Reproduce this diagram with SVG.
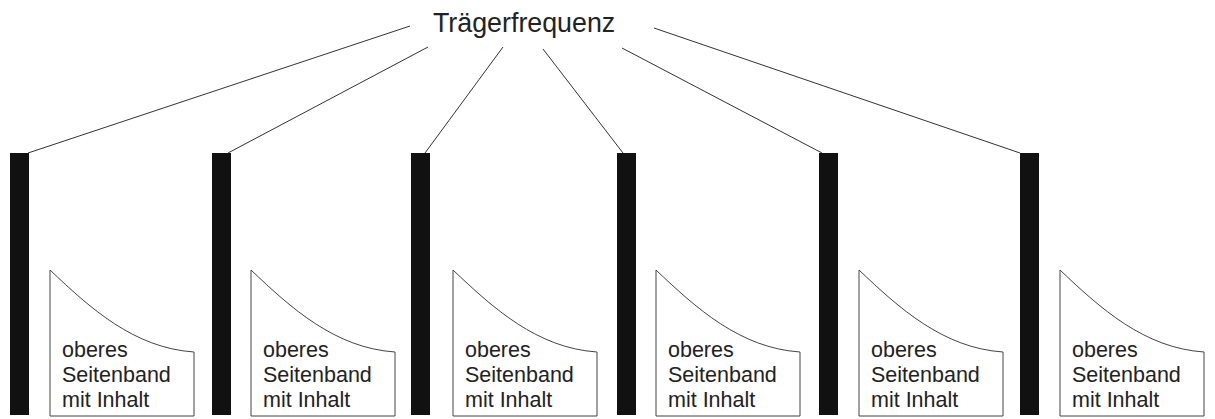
<svg xmlns="http://www.w3.org/2000/svg" width="1215" height="419" viewBox="0 0 1215 419">
<style>
.bg{fill:#ffffff}
.bar{fill:#111111}
.sb{fill:#ffffff;stroke:#444444;stroke-width:1}
.ln{stroke:#333333;stroke-width:1;fill:none}
.t{font-family:"Liberation Sans",Arial,sans-serif;fill:#222222}
.title{font-size:26.8px}
.lbl{font-size:21.5px}
</style>
<defs>
<path id="band" d="M0,0 C40,38 84,78 144,82 L144,146 L0,146 Z"/>
</defs>
<rect class="bg" x="0" y="0" width="1215" height="419"/>
<g id="connectors">
<line class="ln" x1="410" y1="26" x2="28" y2="153"/>
<line class="ln" x1="428" y1="47" x2="228" y2="153"/>
<line class="ln" x1="503" y1="47" x2="425" y2="153"/>
<line class="ln" x1="543" y1="49" x2="623" y2="153"/>
<line class="ln" x1="622" y1="48" x2="822" y2="153"/>
<line class="ln" x1="654" y1="28" x2="1020" y2="153"/>
</g>
<g id="traeger">
<text class="t title" x="433" y="32">Trägerfrequenz</text>
</g>
<g id="carrier1"><rect class="bar" x="10" y="153" width="19" height="262"/></g>
<g id="carrier2"><rect class="bar" x="212" y="153" width="19" height="262"/></g>
<g id="carrier3"><rect class="bar" x="411" y="153" width="19" height="262"/></g>
<g id="carrier4"><rect class="bar" x="617" y="153" width="19" height="262"/></g>
<g id="carrier5"><rect class="bar" x="819" y="153" width="19" height="262"/></g>
<g id="carrier6"><rect class="bar" x="1020" y="153" width="19" height="262"/></g>
<g id="band1" transform="translate(50,270)"><use href="#band" class="sb"/><text class="t lbl" x="12" y="87">oberes</text><text class="t lbl" x="12" y="112">Seitenband</text><text class="t lbl" x="12" y="137">mit Inhalt</text></g>
<g id="band2" transform="translate(251,270)"><use href="#band" class="sb"/><text class="t lbl" x="12" y="87">oberes</text><text class="t lbl" x="12" y="112">Seitenband</text><text class="t lbl" x="12" y="137">mit Inhalt</text></g>
<g id="band3" transform="translate(453,270)"><use href="#band" class="sb"/><text class="t lbl" x="12" y="87">oberes</text><text class="t lbl" x="12" y="112">Seitenband</text><text class="t lbl" x="12" y="137">mit Inhalt</text></g>
<g id="band4" transform="translate(656,270)"><use href="#band" class="sb"/><text class="t lbl" x="12" y="87">oberes</text><text class="t lbl" x="12" y="112">Seitenband</text><text class="t lbl" x="12" y="137">mit Inhalt</text></g>
<g id="band5" transform="translate(859,270)"><use href="#band" class="sb"/><text class="t lbl" x="12" y="87">oberes</text><text class="t lbl" x="12" y="112">Seitenband</text><text class="t lbl" x="12" y="137">mit Inhalt</text></g>
<g id="band6" transform="translate(1060,270)"><use href="#band" class="sb"/><text class="t lbl" x="12" y="87">oberes</text><text class="t lbl" x="12" y="112">Seitenband</text><text class="t lbl" x="12" y="137">mit Inhalt</text></g>
</svg>
